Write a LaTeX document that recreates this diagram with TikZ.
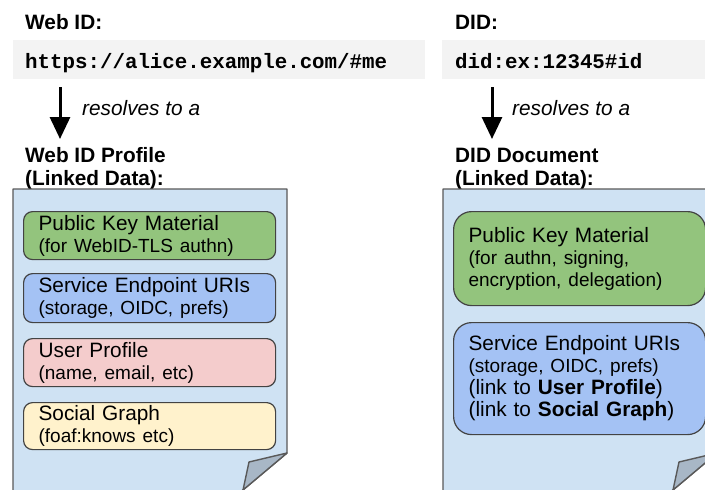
\documentclass[tikz,border=0pt]{standalone}
\usepackage{fontspec}
\setmainfont{Liberation Sans}
\setmonofont{Liberation Mono}
\usetikzlibrary{arrows.meta, positioning}

\definecolor{bandgray}{HTML}{F3F3F3}
\definecolor{docblue}{HTML}{CFE2F3}
\definecolor{docgray}{HTML}{595959}
\definecolor{foldblue}{HTML}{A8B7C6}
\definecolor{keygreen}{HTML}{93C47D}
\definecolor{svcblue}{HTML}{A4C2F4}
\definecolor{userpink}{HTML}{F4CCCC}
\definecolor{socialyellow}{HTML}{FFF2CC}
\definecolor{edgegray}{HTML}{434343}

\newcommand{\boxdetail}[1]{{\fontsize{19}{22}\selectfont #1}}

\tikzset{
  txt/.style={inner sep=0pt, anchor=base west, font=\fontsize{20.8}{22.5}\selectfont},
  head/.style={txt, font=\fontsize{20.8}{22.5}\selectfont\bfseries},
  uri/.style={txt, font=\fontsize{20.8}{22.5}\selectfont\ttfamily\bfseries},
  note/.style={txt, font=\fontsize{20.8}{22.5}\selectfont\itshape},
  band/.style={fill=bandgray, draw=none, anchor=north west, inner sep=0pt, minimum height=39pt},
  doc/.style={fill=docblue, draw=docgray, line width=1.4pt, line join=round},
  fold/.style={fill=foldblue, draw=docgray, line width=1.4pt, line join=round},
  infobox/.style={draw=edgegray, line width=1.2pt, anchor=north west, align=left,
    text width=222pt, inner xsep=15pt, inner ysep=0pt,
    font=\fontsize{20.8}{22}\selectfont},
  resolve/.style={line width=3pt, -{Triangle[width=20pt,length=22pt]}}
}

\begin{document}
\begin{tikzpicture}[x=1pt, y=-1pt]
  \useasboundingbox (0,0) rectangle (705,490);
  \clip (0,0) rectangle (705,490);

  % Web ID side
  \node[head] (webid) at (25,29.5) {Web ID:};
  \node[band, minimum width=412pt] (webband) at (13,40) {};
  \node[uri] (weburi) at (25,68.5) {https://alice.example.com/\#me};

  \coordinate (webtop) at (60,87);
  \coordinate (webtip) at (60,139);
  \draw[resolve] (webtop) -- (webtip);
  \node[note] (webres) at (82,115) {resolves to a};

  \node[head] (webprof) at (25,162.7) {Web ID Profile};
  \node[head] (weblink) at (25,185) {(Linked Data):};

  \draw[doc] (13,189) -- (287,189) -- (287,453) -- (231,500) -- (13,500) -- cycle;
  \draw[fold] (287,453) -- (249,462) -- (243,490) -- cycle;

  \node[infobox, fill=keygreen, minimum height=48pt, rounded corners=9pt] (webkey) at (23,211)
    {Public Key Material\\\boxdetail{(for WebID-TLS authn)}};
  \node[infobox, fill=svcblue, minimum height=49pt, rounded corners=9pt] (websvc) at (23,273)
    {Service Endpoint URIs\\\boxdetail{(storage, OIDC, prefs)}};
  \node[infobox, fill=userpink, minimum height=48pt, rounded corners=9pt] (webuser) at (23,338)
    {User Profile\\\boxdetail{(name, email, etc)}};
  \node[infobox, fill=socialyellow, minimum height=47pt, rounded corners=9pt] (websocial) at (23,402)
    {Social Graph\\\boxdetail{(foaf:knows etc)}};

  % DID side
  \node[head] (did) at (455,29.5) {DID:};
  \node[band, minimum width=263pt] (didband) at (442,40) {};
  \node[uri] (diduri) at (455,68.5) {did:ex:12345\#id};

  \coordinate (didtop) at (492,87);
  \coordinate (didtip) at (492,139);
  \draw[resolve] (didtop) -- (didtip);
  \node[note] (didres) at (512,115) {resolves to a};

  \node[head] (diddoc) at (455,162.7) {DID Document};
  \node[head] (didlink) at (455,185) {(Linked Data):};

  \draw[doc] (443,189) -- (717,189) -- (717,453) -- (661,500) -- (443,500) -- cycle;
  \draw[fold] (717,453) -- (679,462) -- (673,490) -- cycle;

  \node[infobox, fill=keygreen, minimum height=94pt, rounded corners=18pt] (didkey) at (453,211)
    {Public Key Material\\\boxdetail{(for authn, signing,}\\\boxdetail{encryption, delegation)}};
  \node[infobox, fill=svcblue, minimum height=112pt, rounded corners=18pt] (didsvc) at (453,322)
    {Service Endpoint URIs\\\boxdetail{(storage, OIDC, prefs)}\\(link to \textbf{User Profile})\\(link to \textbf{Social Graph})};
\end{tikzpicture}
\end{document}
